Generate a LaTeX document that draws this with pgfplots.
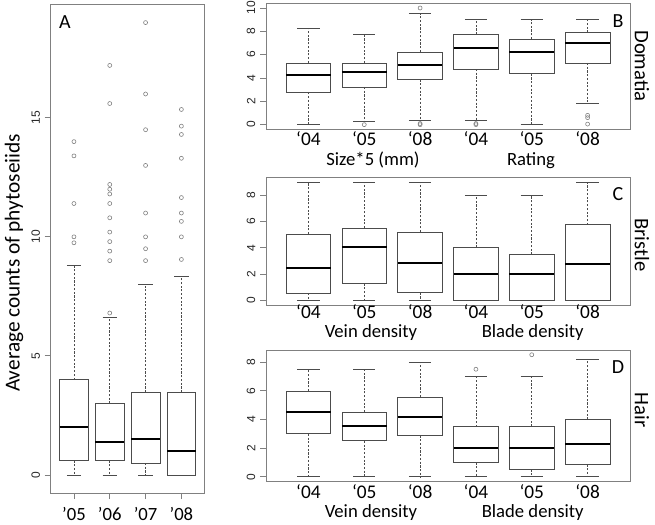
\documentclass[border=0pt]{standalone}
\usepackage{pgfplots}
\pgfplotsset{compat=1.18}
\usepgfplotslibrary{statistics}
\usepackage{fontspec}
\setmainfont{Carlito}
\newfontfamily\arialf{Liberation Sans}
\definecolor{framec}{gray}{0.5}
\definecolor{boxc}{gray}{0.3}
\pgfplotsset{
  bpstyle/.style={draw=boxc, line width=0.6pt, solid, mark=o, mark size=1.5pt,
    mark options={draw=gray, line width=0.45pt, solid},
    boxplot/draw direction=y,
    boxplot/box extend=0.8, boxplot/whisker extend=0.4,
    boxplot/every median/.style={draw=black, line width=1.5pt},
    boxplot/draw/lower whisker/.code={%
      \draw[boxc, dash pattern=on 1.6pt off 1.2pt, line width=0.45pt] (boxplot cs:\pgfplotsboxplotvalue{lower quartile}) -- (boxplot cs:\pgfplotsboxplotvalue{lower whisker});
      \draw[boxc, solid, line width=0.6pt] (boxplot whisker cs:\pgfplotsboxplotvalue{lower whisker},0) -- (boxplot whisker cs:\pgfplotsboxplotvalue{lower whisker},1);},
    boxplot/draw/upper whisker/.code={%
      \draw[boxc, dash pattern=on 1.6pt off 1.2pt, line width=0.45pt] (boxplot cs:\pgfplotsboxplotvalue{upper quartile}) -- (boxplot cs:\pgfplotsboxplotvalue{upper whisker});
      \draw[boxc, solid, line width=0.6pt] (boxplot whisker cs:\pgfplotsboxplotvalue{upper whisker},0) -- (boxplot whisker cs:\pgfplotsboxplotvalue{upper whisker},1);},
  },
  panel/.style={scale only axis, anchor=south west, axis line style={framec, line width=0.7pt},
    tick align=outside, ytick pos=left, xtick pos=bottom, major tick length=4.5pt,
    every tick/.style={framec, line width=0.6pt},
    yticklabel style={rotate=90, anchor=south, font=\arialf\fontsize{9}{10}\selectfont, text=black!85},
    /pgf/number format/assume math mode=true, clip=false},
  rpanel/.style={panel, width=273pt, xmin=0.24, xmax=6.76, xtick={1,2,3,4,5,6},
    xticklabels={‘04,‘05,‘08,‘04,‘05,‘08}, xtick style={draw=none},
    xticklabel style={font=\fontsize{14.5}{15}\selectfont, anchor=base, inner sep=0pt, yshift=#1}},
}
\newcommand{\bx}[7]{\addplot[bpstyle, boxplot prepared={draw position=#1, lower whisker=#2, lower quartile=#3, median=#4, upper quartile=#5, upper whisker=#6}] coordinates {#7};}
\begin{document}
\begin{tikzpicture}
\useasboundingbox (0,0) rectangle (491.25pt,393pt);
% Panel A
\begin{axis}[panel, at={(38pt,23.25pt)}, width=115.5pt, height=366.2pt,
  xmin=0.35, xmax=4.65, ymin=-0.76, ymax=19.75,
  xtick={1,2,3,4}, xticklabels={’05,’06,’07,’08}, ytick={0,5,10,15},
  xticklabel style={font=\fontsize{14}{15}\selectfont, anchor=base, inner sep=0pt, yshift=-16pt}]
\bx{1}{0}{0.6}{2.0}{4.0}{8.8}{(0,14.0)(0,13.4)(0,11.4)(0,10.0)(0,9.75)}
\bx{2}{0}{0.6}{1.4}{3.0}{6.6}{(0,17.2)(0,15.6)(0,12.2)(0,12.0)(0,11.8)(0,11.4)(0,10.8)(0,10.2)(0,9.8)(0,9.4)(0,9.0)(0,6.8)}
\bx{3}{0}{0.5}{1.5}{3.47}{8.0}{(0,19.0)(0,16.0)(0,14.5)(0,13.0)(0,11.0)(0,10.0)(0,9.5)(0,9.0)}
\bx{4}{0}{0}{1.0}{3.47}{8.33}{(0,15.35)(0,14.65)(0,14.3)(0,13.3)(0,11.65)(0,11.0)(0,10.65)(0,10.0)(0,9.05)}
\end{axis}
% Panel B
\begin{axis}[rpanel=-8pt, at={(199.5pt,296pt)}, height=94.5pt,
  ymin=-0.4, ymax=10.4, ytick={0,2,4,6,8,10}]
\bx{1}{0}{2.77}{4.23}{5.29}{8.25}{}
\bx{2}{0.26}{3.23}{4.54}{5.29}{7.77}{(0,0)}
\bx{3}{0.4}{3.88}{5.14}{6.23}{9.51}{(0,10)(0,0.1)(0,0)}
\bx{4}{0.4}{4.77}{6.54}{7.74}{9.0}{(0,0.1)(0,0)}
\bx{5}{0}{4.37}{6.26}{7.34}{9.0}{}
\bx{6}{1.86}{5.29}{7.0}{7.91}{9.0}{(0,0.8)(0,0.6)(0,0.05)}
\end{axis}
% Panel C
\begin{axis}[rpanel=-5.5pt, at={(199.5pt,164.25pt)}, height=95.8pt,
  ymin=-0.36, ymax=9.36, ytick={0,2,4,6,8}]
\bx{1}{0}{0.53}{2.49}{5.03}{9}{}
\bx{2}{0}{1.27}{4.04}{5.49}{9}{}
\bx{3}{0}{0.58}{2.87}{5.2}{9}{}
\bx{4}{0}{0}{2.0}{4.01}{8}{}
\bx{5}{0}{0}{2.0}{3.48}{8}{}
\bx{6}{0}{0}{2.77}{5.74}{9}{}
\end{axis}
% Panel D
\begin{axis}[rpanel=-8pt, at={(199.5pt,31.7pt)}, height=98.8pt,
  ymin=-0.34, ymax=8.84, ytick={0,2,4,6,8}]
\bx{1}{0}{3.0}{4.53}{5.98}{7.51}{}
\bx{2}{0}{2.51}{3.51}{4.51}{7.5}{}
\bx{3}{0}{2.88}{4.14}{5.56}{8.0}{}
\bx{4}{0}{1.0}{1.99}{3.49}{6.98}{(0,7.5)}
\bx{5}{0}{0.51}{2.0}{3.5}{7.0}{(0,8.51)}
\bx{6}{0}{0.86}{2.26}{4.0}{8.21}{}
\end{axis}
\begin{scope}[x=0.75pt,y=-0.75pt,yshift=393pt]
\node[font=\fontsize{15}{16}\selectfont] at (65,22) {A};
\node[font=\fontsize{16}{17}\selectfont, rotate=90] at (14,263) {Average counts of phytoseiids};
\node[font=\fontsize{15}{16}\selectfont] at (618,21) {B};
\node[font=\fontsize{15}{16}\selectfont] at (618,194) {C};
\node[font=\fontsize{15}{16}\selectfont] at (618,367) {D};
\node[font=\fontsize{15.5}{16}\selectfont, rotate=-90] at (642,66) {Domatia};
\node[font=\fontsize{15.5}{16}\selectfont, rotate=-90] at (642,245) {Bristle};
\node[font=\fontsize{15.5}{16}\selectfont, rotate=-90] at (642,410) {Hair};
\begin{scope}[every node/.style={font=\fontsize{14}{15}\selectfont, anchor=base, inner sep=0pt}]
\node at (373,165.5) {Size*5 (mm)};
\node at (531,165.5) {Rating};
\node at (371,338) {Vein density};
\node at (532.7,338) {Blade density};
\node at (371,517) {Vein density};
\node at (532.7,517) {Blade density};
\end{scope}
\end{scope}
\end{tikzpicture}
\end{document}
